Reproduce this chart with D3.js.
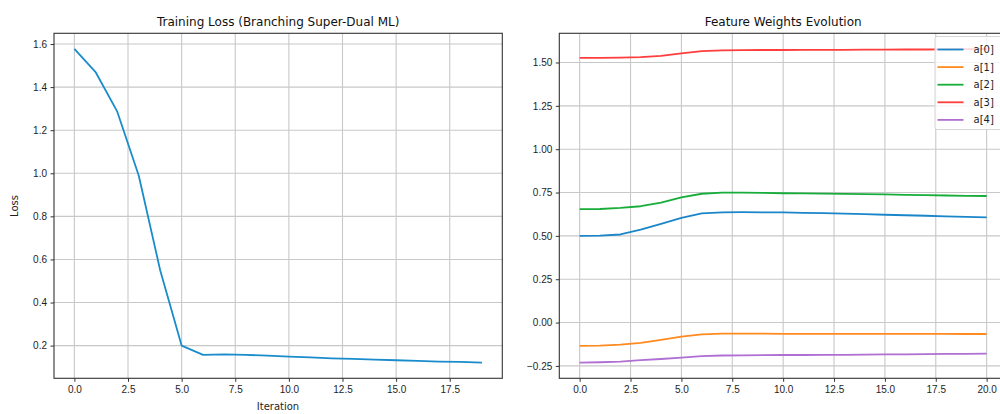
<!DOCTYPE html>
<html lang="en">
<head>
<meta charset="UTF-8">
<title>Training Loss / Feature Weights</title>
<style>
  body { margin: 0; background: #fff; }
  svg { display: block; font-family: "DejaVu Sans", sans-serif; }
  .tick text { fill: #1e1e1e; font-size: 10px; }
  .tick line { stroke: #333; }
  .domain { display: none; }
</style>
</head>
<body>
<svg width="1000" height="414"></svg>
<script src="https://d3js.org/d3.v7.min.js"></script>
<script>
// ---- data ----
const iterations = d3.range(0, 20);
const loss = [1.577, 1.468, 1.286, 0.99, 0.55, 0.20, 0.157, 0.159, 0.157, 0.153,
              0.149, 0.145, 0.141, 0.138, 0.135, 0.132, 0.129, 0.126, 0.124, 0.121];

const steps = d3.range(0, 21);
const seriesNames = ["a[0]", "a[1]", "a[2]", "a[3]", "a[4]"];
const a0 = [0.500, 0.501, 0.508, 0.536, 0.569, 0.604, 0.630, 0.636, 0.637, 0.636,
            0.635, 0.633, 0.631, 0.628, 0.625, 0.622, 0.619, 0.616, 0.613, 0.610, 0.607];
const a1 = [-0.134, -0.133, -0.127, -0.117, -0.100, -0.081, -0.068, -0.064, -0.064, -0.064,
            -0.065, -0.065, -0.065, -0.065, -0.065, -0.065, -0.065, -0.065, -0.065, -0.066, -0.066];
const a2 = [0.654, 0.655, 0.661, 0.671, 0.692, 0.722, 0.743, 0.749, 0.749, 0.748,
            0.746, 0.745, 0.744, 0.742, 0.741, 0.739, 0.737, 0.735, 0.733, 0.731, 0.730];
const a3 = [1.527, 1.527, 1.528, 1.531, 1.538, 1.553, 1.566, 1.570, 1.571, 1.572,
            1.572, 1.573, 1.573, 1.573, 1.574, 1.574, 1.575, 1.575, 1.576, 1.577, 1.578];
const a4 = [-0.231, -0.229, -0.225, -0.217, -0.210, -0.202, -0.193, -0.190, -0.189, -0.188,
            -0.187, -0.187, -0.186, -0.186, -0.185, -0.184, -0.183, -0.182, -0.181, -0.180, -0.179];
const weights = [a0, a1, a2, a3, a4];
const colors = ["#1a86c9", "#ff8a1f", "#17ad3a", "#ff3d3d", "#b06fd3"];

const lossXTicks = [0, 2.5, 5, 7.5, 10, 12.5, 15, 17.5];
const lossYTicks = [0.2, 0.4, 0.6, 0.8, 1.0, 1.2, 1.4, 1.6];
const wXTicks = [0, 2.5, 5, 7.5, 10, 12.5, 15, 17.5, 20];
const wYTicks = [-0.25, 0, 0.25, 0.5, 0.75, 1.0, 1.25, 1.5];

const svg = d3.select("svg");
const minus = s => s.replace("-", "\u2212");

// matplotlib-style 5% padding
function padded(ext) {
    const p = (ext[1] - ext[0]) * 0.05;
    return [ext[0] - p, ext[1] + p];
}

function panel(opts) {
    const g = svg.append("g");
    const x = d3.scaleLinear().domain(padded(opts.xExt)).range([opts.left, opts.right]);
    const y = d3.scaleLinear().domain(padded(opts.yExt)).range([opts.bottom, opts.top]);

    // grid
    g.append("g").selectAll("line").data(opts.xTicks).join("line")
        .attr("x1", d => x(d)).attr("x2", d => x(d))
        .attr("y1", opts.top).attr("y2", opts.bottom)
        .attr("stroke", "#c8c8c8").attr("stroke-width", 1.1);
    g.append("g").selectAll("line").data(opts.yTicks).join("line")
        .attr("y1", d => y(d)).attr("y2", d => y(d))
        .attr("x1", opts.left).attr("x2", opts.right)
        .attr("stroke", "#c8c8c8").attr("stroke-width", 1.1);

    // axes
    g.append("g").attr("transform", `translate(0,${opts.bottom})`)
        .call(d3.axisBottom(x).tickValues(opts.xTicks).tickSize(3.5).tickPadding(4)
            .tickFormat(d3.format(".1f")));
    g.append("g").attr("transform", `translate(${opts.left},0)`)
        .call(d3.axisLeft(y).tickValues(opts.yTicks).tickSize(3.5).tickPadding(3.5)
            .tickFormat(d => minus(d3.format(opts.yFmt)(d))));

    const clip = "clip" + opts.id;
    g.append("clipPath").attr("id", clip).append("rect")
        .attr("x", opts.left).attr("y", opts.top)
        .attr("width", opts.right - opts.left).attr("height", opts.bottom - opts.top);

    const lines = g.append("g").attr("clip-path", `url(#${clip})`);
    opts.series.forEach((s, i) => {
        const line = d3.line().x((d, j) => x(opts.xs[j])).y(d => y(d));
        lines.append("path").datum(s)
            .attr("d", line)
            .attr("fill", "none")
            .attr("stroke", opts.colors[i])
            .attr("stroke-width", 1.8)
            .attr("stroke-linejoin", "round");
    });

    // frame
    g.append("rect")
        .attr("x", opts.left).attr("y", opts.top)
        .attr("width", opts.right - opts.left).attr("height", opts.bottom - opts.top)
        .attr("fill", "none").attr("stroke", "#333").attr("stroke-width", 1.1);

    g.append("text")
        .attr("x", (opts.left + opts.right) / 2).attr("y", 26)
        .attr("text-anchor", "middle").attr("font-size", 12).attr("fill", "#111")
        .text(opts.title);

    return {g, x, y};
}

// left panel
const left = panel({
    id: "L", left: 54, right: 502.3, top: 33.3, bottom: 378.3,
    xExt: d3.extent(iterations), yExt: d3.extent(loss),
    xTicks: lossXTicks, yTicks: lossYTicks, yFmt: ".1f",
    xs: iterations, series: [loss], colors: ["#1a8ccc"],
    title: "Training Loss (Branching Super-Dual ML)"
});
left.g.append("text")
    .attr("x", 278).attr("y", 410).attr("text-anchor", "middle")
    .attr("font-size", 10).attr("fill", "#1e1e1e").text("Iteration");
left.g.append("text")
    .attr("transform", "translate(18,206) rotate(-90)").attr("text-anchor", "middle")
    .attr("font-size", 10).attr("fill", "#1e1e1e").text("Loss");

// right panel
const allW = weights.flat();
const right = panel({
    id: "R", left: 559.3, right: 1007, top: 33.3, bottom: 378.3,
    xExt: d3.extent(steps), yExt: d3.extent(allW),
    xTicks: wXTicks, yTicks: wYTicks, yFmt: ".2f",
    xs: steps, series: weights, colors: colors,
    title: "Feature Weights Evolution"
});

// legend
const lg = svg.append("g").attr("transform", "translate(935,36.5)");
lg.append("rect").attr("width", 70).attr("height", 93).attr("rx", 2)
    .attr("fill", "#fff").attr("fill-opacity", 0.8)
    .attr("stroke", "#d6d6d6").attr("stroke-width", 1);
seriesNames.forEach((name, i) => {
    const yy = 13 + i * 17.6;
    lg.append("line").attr("x1", 2.5).attr("x2", 28.5).attr("y1", yy).attr("y2", yy)
        .attr("stroke", colors[i]).attr("stroke-width", 1.8);
    lg.append("text").attr("x", 38.5).attr("y", yy + 3.5)
        .attr("font-size", 10).attr("fill", "#1e1e1e").text(name);
});
</script>
</body>
</html>
